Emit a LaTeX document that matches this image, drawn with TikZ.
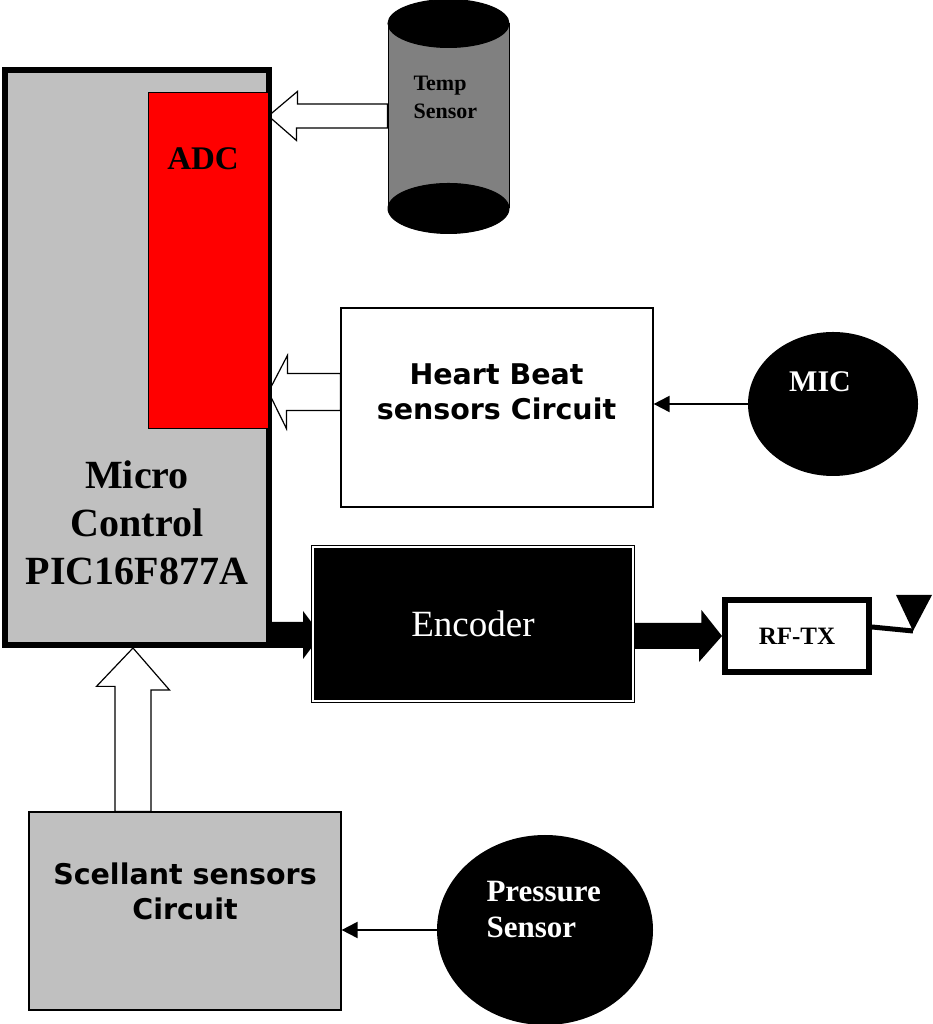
\documentclass[tikz,border=0pt]{standalone}
\usepackage{fontspec}
\setmainfont{Liberation Serif}
\newfontfamily\verdfont{DejaVu Sans}
\usetikzlibrary{shapes.geometric,calc,arrows.meta}
\definecolor{chipgray}{HTML}{C0C0C0}
\definecolor{cangray}{HTML}{808080}
\pgfdeclarelayer{bg}
\pgfsetlayers{bg,main}

\tikzset{
  box/.style={draw, rectangle, inner sep=0pt},
  blob/.style={ellipse, fill=black, inner sep=0pt},
  hollow/.style={draw, fill=white, line width=1.2pt, line join=miter},
  wire/.style={line width=2pt, -{Triangle[length=16pt,width=16pt]}},
  sansb/.style={font=\verdfont\bfseries\fontsize{28.5}{35}\selectfont, align=center},
}

\begin{document}
\begin{tikzpicture}[x=1pt,y=1pt]
  \useasboundingbox (0,0) rectangle (933,1024);

  % controller with its converter
  \node[box, line width=6pt, fill=chipgray, minimum width=264pt, minimum height=575pt] (micro) at (137,666.5) {};
  \node[box, line width=0.8pt, fill=red, minimum width=120pt, minimum height=336pt] (adc) at (208,764) {};
  \node[font=\bfseries\fontsize{33}{38}\selectfont] (adclbl) at (203,865) {ADC};
  \node[font=\bfseries\fontsize{40}{48}\selectfont, align=center] (microlbl) at (137,501) {Micro\\Control\\PIC16F877A};

  % temperature can
  \node[box, line width=1pt, fill=cangray, minimum width=121pt, minimum height=184pt] (temp) at (448.5,908) {};
  \filldraw[line width=1pt] (temp.north) ellipse (60.5 and 24);
  \filldraw[line width=1pt] (temp.south) ellipse (60.5 and 25);
  \node[font=\bfseries\fontsize{22}{28}\selectfont, align=left, anchor=west] (templbl) at (410,927) {Temp\\Sensor};

  % heart beat part
  \node[box, line width=1.2pt, fill=white, minimum width=312pt, minimum height=199pt] (hb) at (497,616.5) {};
  \node[sansb] (hblbl) at (496.5,632) {Heart Beat\\sensors Circuit};
  \node[blob, minimum width=170pt, minimum height=144pt] (mic) at (833,620) {};
  \node[text=white, font=\bfseries\fontsize{30}{36}\selectfont] (miclbl) at (820,642) {MIC};

  % output chain
  \node[box, fill=black, double=white, double distance=1.6pt, line width=0.8pt, minimum width=320pt, minimum height=154pt,
    text=white, font=\fontsize{37}{44}\selectfont] (enc) at (473,400) {Encoder};
  \node[box, line width=6pt, fill=white, minimum width=144pt, minimum height=72pt,
    font=\bfseries\fontsize{25}{30}\selectfont] (rf) at (797,388) {RF-TX};
  \coordinate (ant) at (913,393);

  % scellant part
  \node[box, line width=1.2pt, fill=chipgray, minimum width=312pt, minimum height=198pt] (sc) at (185,113) {};
  \node[sansb] (sclbl) at (185,133) {Scellant sensors\\Circuit};
  \node[blob, minimum width=216pt, minimum height=190pt] (pr) at (545,94) {};
  \node[text=white, font=\bfseries\fontsize{31}{36}\selectfont, align=left, anchor=west] (prlbl) at (483,114) {Pressure\\Sensor};

  \begin{pgfonlayer}{bg}
    \draw[hollow] (adc.east |- temp.west) -- ++(29,24.5) -- ++(0,-12.5) -- ($(temp.west)+(0,12)$)
      -- ($(temp.west)+(0,-12)$) -- ++(-91,0) -- ++(0,-12.5) -- cycle;
    \draw[hollow] ($(adc.east |- hb.west)+(0,15.5)$) -- ++(19,36.5) -- ++(0,-18) -- ($(hb.west)+(0,34)$)
      -- ($(hb.west)+(0,-3)$) -- ++(-54,0) -- ++(0,-18) -- cycle;
    \draw[hollow] ($(micro.south)+(-4,0)$) -- ++(36.5,-42) -- ++(-18.5,0) -- ($(sc.north)+(-34,0)$)
      -- ++(-36,0) -- ++(0,125) -- ++(-18.5,0) -- cycle;
    \fill ($(micro.east |- enc.west)+(0,2)$) -- ++(31,0) -- ++(0,11) -- ++(18,-24) -- ++(-18,-24) -- ++(0,11) -- ++(-31,0) -- cycle;
    \fill ($(enc.east |- rf.west)+(0,13)$) -- ++(68,0) -- ++(0,13) -- (rf.west) -- ++(-23,-26) -- ++(0,13) -- ++(-68,0) -- cycle;
  \end{pgfonlayer}

  \draw[wire] (mic.west) -- (mic.west -| hb.east);
  \draw[wire] (pr.west) -- (pr.west -| sc.east);
  \draw[line width=5pt] ($(rf.east)+(0,9)$) -- (ant);
  \fill (ant) -- ++(-17,36) -- ++(36,0) -- cycle;
\end{tikzpicture}
\end{document}
